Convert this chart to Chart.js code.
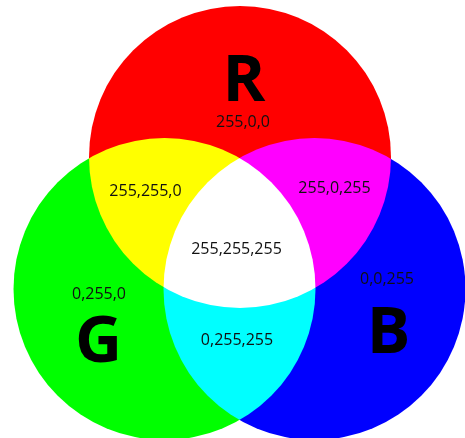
<!DOCTYPE html>
<html>
<head>
<meta charset="utf-8">
<script src="https://cdn.jsdelivr.net/npm/chart.js@4/dist/chart.umd.min.js"></script>
<style>
  html, body { margin: 0; padding: 0; background: #ffffff; }
  #wrap { width: 465px; height: 438px; }
</style>
</head>
<body>
<div id="wrap"><canvas id="venn" width="465" height="438"></canvas></div>
<script>
// circles of the additive colour model
const circleNames = ['R', 'G', 'B'];
const circleX = [240, 164.5, 314.5];
const circleY = [157, 289, 289];
const circleR = [151, 151, 151];
const circleColors = ['#ff0000', '#00ff00', '#0000ff'];

// big letters
const letterX = [244, 98.5, 388.5];
const letterY = [78, 339, 330];

// rgb value labels
const valueText = ['255,0,0', '255,255,0', '255,0,255', '255,255,255', '0,255,0', '0,0,255', '0,255,255'];
const valueX = [243, 145.5, 334.5, 236.5, 99, 387, 237];
const valueY = [122, 191, 188, 249, 294, 279, 340];

// mix the circles additively so overlaps give yellow, magenta, cyan, white
const addBlend = {
    id: 'addBlend',
    beforeDatasetsDraw(chart) {
        chart.ctx.save();
        chart.ctx.globalCompositeOperation = 'lighter';
    },
    afterDatasetsDraw(chart) {
        chart.ctx.restore();
    }
};

// text centred on its glyph box, not on the em box
function centredText(ctx, t, x, y) {
    const m = ctx.measureText(t);
    const h = m.actualBoundingBoxAscent - m.actualBoundingBoxDescent;
    ctx.fillText(t, x, y + h / 2);
}

const labelsPlugin = {
    id: 'vennLabels',
    afterDraw(chart) {
        const ctx = chart.ctx;
        const sx = chart.scales.x;
        const sy = chart.scales.y;
        ctx.save();
        ctx.textAlign = 'center';
        ctx.textBaseline = 'alphabetic';
        ctx.fillStyle = '#000000';
        ctx.font = 'bold 65px "Open Sans"';
        circleNames.forEach((n, i) => {
            centredText(ctx, n, sx.getPixelForValue(letterX[i]), sy.getPixelForValue(letterY[i]));
        });
        ctx.fillStyle = '#111111';
        ctx.font = '16px "Open Sans"';
        valueText.forEach((t, i) => {
            centredText(ctx, t, sx.getPixelForValue(valueX[i]), sy.getPixelForValue(valueY[i]));
        });
        ctx.restore();
    }
};

const ctx = document.getElementById('venn').getContext('2d');

const grafico = new Chart(ctx, {
    type: 'bubble',
    data: {
        datasets: circleNames.map((n, i) => ({
            label: n,
            data: [{ x: circleX[i], y: circleY[i], r: circleR[i] }],
            backgroundColor: circleColors[i],
            borderColor: circleColors[i],
            borderWidth: 0,
            hoverBorderWidth: 0,
            clip: false
        }))
    },
    options: {
        responsive: false,
        animation: false,
        events: [],
        layout: { padding: 0, autoPadding: false },
        scales: {
            x: { type: 'linear', min: 0, max: 465, display: false },
            y: { type: 'linear', min: 0, max: 438, reverse: true, display: false }
        },
        plugins: {
            legend: { display: false },
            tooltip: { enabled: false }
        }
    },
    plugins: [addBlend, labelsPlugin]
});
</script>
</body>
</html>
